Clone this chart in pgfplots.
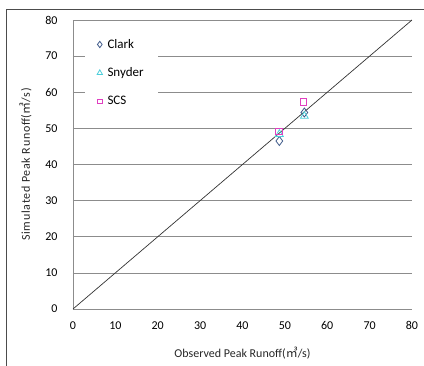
\documentclass[border=0pt]{standalone}
\usepackage{pgfplots}
\pgfplotsset{compat=1.18}
\usepackage{fontspec}
\setmainfont{Carlito}
\newfontfamily\cjk{Noto Sans CJK KR}
\definecolor{clarkc}{HTML}{3F5A8A}
\definecolor{snyderc}{HTML}{4CCFDB}
\definecolor{scsc}{HTML}{E040C0}
\definecolor{gridc}{HTML}{8C8C8C}
\begin{document}
\begin{tikzpicture}[x=1pt,y=1pt]
\path[use as bounding box] (0,0) rectangle (424,366);
\draw[gray!60!black, line width=0.8pt] (6,0) -- (6,357) -- (424,357);
\begin{axis}[
  at={(73pt,57pt)}, anchor=south west,
  scale only axis, width=339pt, height=289pt,
  xmin=0, xmax=80, ymin=0, ymax=80,
  xtick={0,10,...,80}, ytick={0,10,...,80},
  axis x line*=bottom, axis y line*=left,
  axis line style={gridc, line width=0.8pt},
  ymajorgrids, grid style={gridc, line width=0.7pt},
  major tick length=0pt,
  /pgf/number format/assume math mode=true,
  tick label style={font=\fontsize{12}{14}\selectfont, black},
  xticklabel style={yshift=-9pt},
  yticklabel style={xshift=-12pt},
  xlabel={Observed Peak Runoff({\cjk ㎥}/s)},
  ylabel={\addfontfeature{LetterSpace=6}Simulated Peak Runoff({\cjk ㎥}/s)},
  label style={font=\fontsize{12}{14}\selectfont, black!85},
  xlabel style={yshift=-10pt},
  ylabel style={yshift=7pt},
  legend style={at={(0.035,0.955)}, anchor=north west, draw=none, fill=white,
    font=\fontsize{13}{15}\selectfont, row sep=14pt, inner xsep=12pt, inner ysep=4pt},
  legend image post style={scale=0.7},
  legend cell align=left,
  clip=false,
]
\addplot[black!80, line width=0.7pt, forget plot] coordinates {(0,0) (80,80)};
\addplot[only marks, mark=diamond, mark size=4.5pt, mark options={clarkc, line width=0.8pt}]
  coordinates {(48.7,46.5) (54.6,54.4)};
\addlegendentry{\hspace{3pt}Clark}
\addplot[only marks, mark=triangle, mark size=4.5pt, mark options={snyderc, line width=0.8pt}]
  coordinates {(48.7,48.4) (54.6,53.4)};
\addlegendentry{\hspace{3pt}Snyder}
\addplot[only marks, mark=square, mark size=3.2pt, mark options={scsc, line width=0.8pt}]
  coordinates {(48.6,49.2) (54.4,57.3)};
\addlegendentry{\hspace{3pt}SCS}
\end{axis}
\end{tikzpicture}
\end{document}
